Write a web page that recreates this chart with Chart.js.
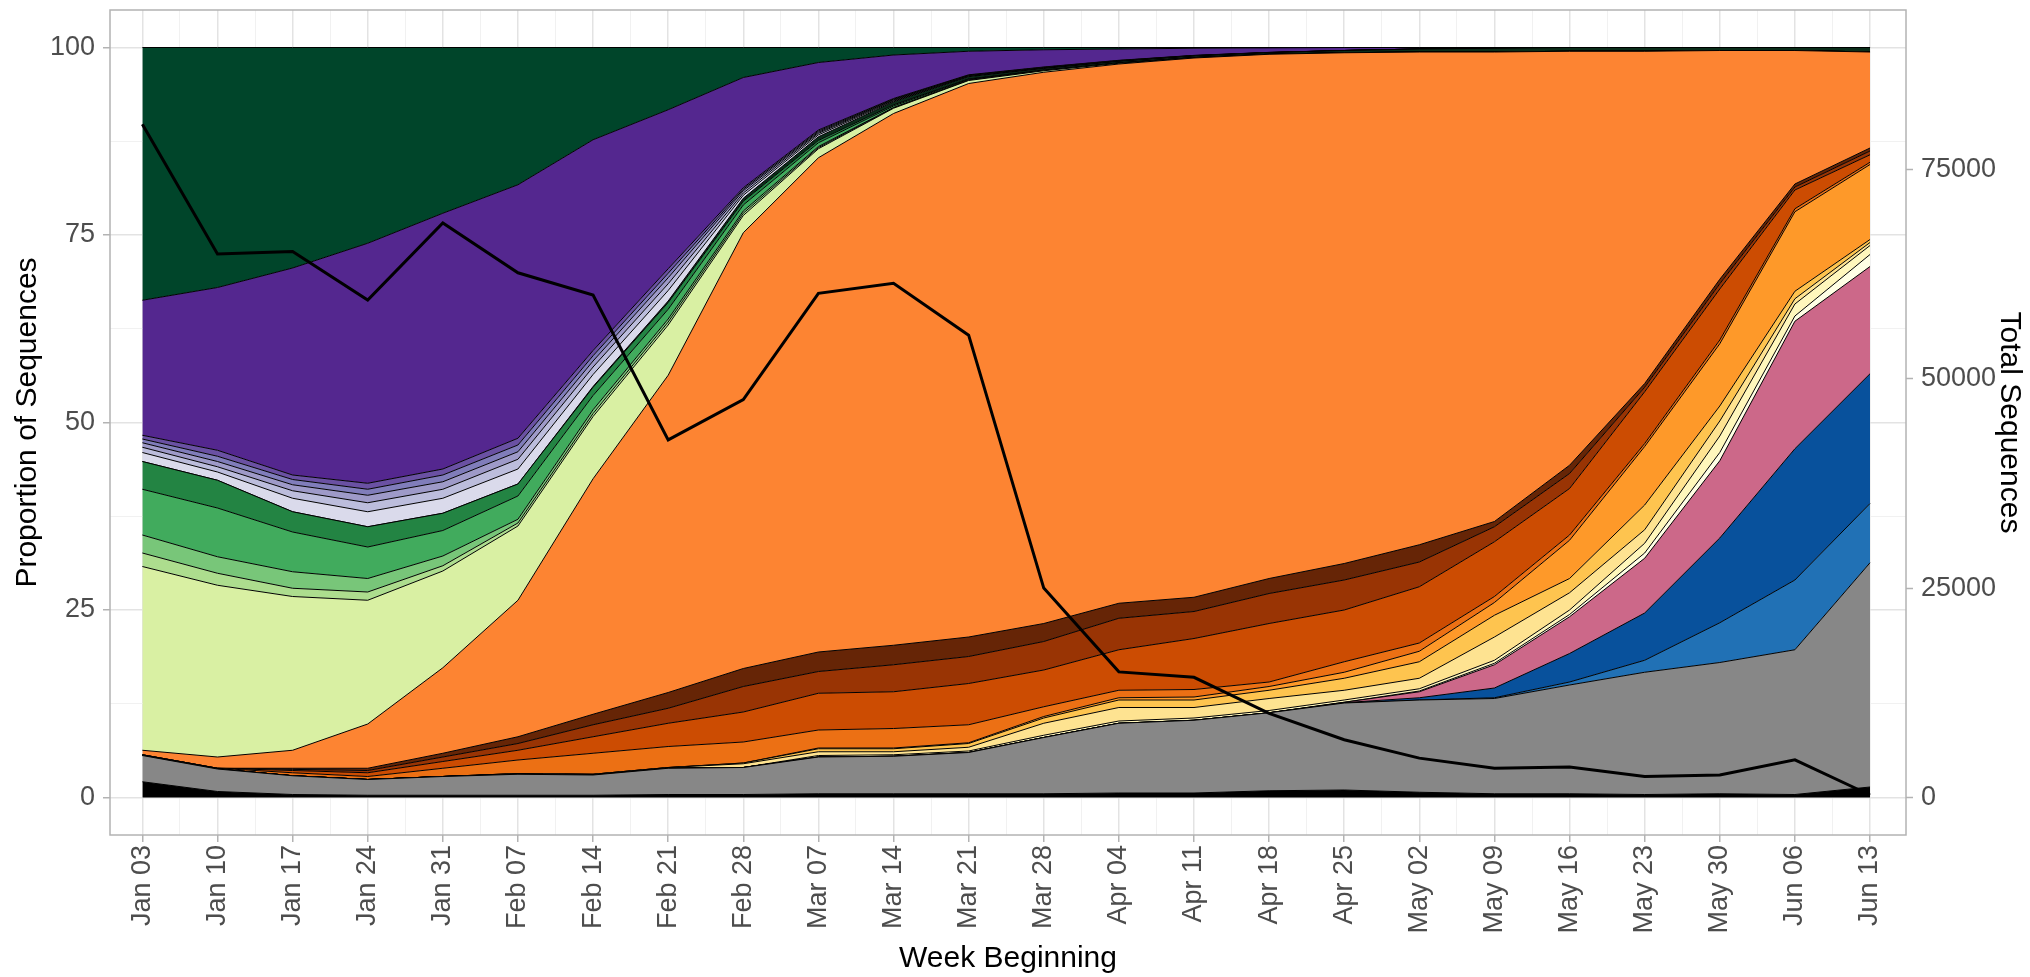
<!DOCTYPE html>
<html>
<head>
<meta charset="utf-8">
<title>Proportion of Sequences by Week</title>
<script src="https://cdn.jsdelivr.net/npm/chart.js@4.4.1/dist/chart.umd.min.js"></script>
<style>
  html, body { margin: 0; padding: 0; background: #fff; }
  #wrap { width: 2030px; height: 977px; position: relative; }
</style>
</head>
<body>
<div id="wrap"><canvas id="lineages"></canvas></div>
<script>
// x categories
const weeks = ['Jan 03', 'Jan 10', 'Jan 17', 'Jan 24', 'Jan 31', 'Feb 07', 'Feb 14', 'Feb 21', 'Feb 28',
  'Mar 07', 'Mar 14', 'Mar 21', 'Mar 28', 'Apr 04', 'Apr 11', 'Apr 18', 'Apr 25',
  'May 02', 'May 09', 'May 16', 'May 23', 'May 30', 'Jun 06', 'Jun 13'];

// proportions (%) per layer, bottom of the stack first
const black     = [2.1, 0.8, 0.4, 0.3, 0.3, 0.3, 0.3, 0.4, 0.4, 0.5, 0.5, 0.5, 0.5, 0.6, 0.6, 0.9, 1.0, 0.7, 0.5, 0.5, 0.4, 0.5, 0.4, 1.4];
const grey      = [3.5, 3.0, 2.5, 2.1, 2.5, 2.8, 2.7, 3.5, 3.6, 4.9, 5.0, 5.5, 7.5, 9.3, 9.7, 10.4, 11.6, 12.3, 12.7, 14.5, 16.3, 17.5, 19.3, 29.9];
const blueLight = [0, 0, 0, 0, 0, 0, 0, 0, 0, 0, 0, 0, 0, 0, 0, 0, 0, 0, 0.1, 0.4, 1.6, 5.3, 9.3, 7.9];
const blueDark  = [0, 0, 0, 0, 0, 0, 0, 0, 0, 0, 0, 0, 0, 0, 0, 0, 0.05, 0.3, 1.3, 3.8, 6.3, 11.3, 17.5, 17.3];
const pink      = [0, 0, 0, 0, 0, 0, 0, 0, 0, 0, 0, 0, 0, 0, 0, 0, 0.05, 0.8, 3.1, 4.9, 7.3, 10.3, 17.0, 14.3];
const ylw0      = [0, 0, 0, 0, 0, 0, 0, 0, 0, 0, 0, 0, 0, 0, 0, 0, 0, 0.1, 0.2, 0.3, 0.7, 1.1, 0.7, 1.6];
const ylw1      = [0, 0, 0, 0, 0, 0, 0, 0, 0, 0.2, 0.2, 0.2, 0.3, 0.3, 0.3, 0.3, 0.3, 0.3, 0.4, 0.6, 1.3, 2.2, 1.6, 1.2];
const ylw2      = [0, 0, 0, 0, 0, 0.1, 0.1, 0.1, 0.5, 0.5, 0.4, 0.5, 1.6, 1.8, 1.4, 1.6, 1.3, 1.4, 3.1, 2.3, 1.8, 2.0, 0.7, 0.4];
const ylw3      = [0, 0, 0, 0, 0, 0, 0, 0, 0.1, 0.4, 0.4, 0.5, 0.7, 1.0, 1.0, 1.1, 1.6, 2.2, 2.9, 1.9, 3.3, 2.0, 1.0, 0.4];
const ylw4      = [0, 0, 0, 0, 0, 0, 0, 0, 0, 0.1, 0.1, 0.1, 0.2, 0.3, 0.4, 0.5, 0.8, 1.4, 1.7, 5.1, 7.8, 8.3, 10.6, 10.0];
const ylw5      = [0.1, 0.1, 0.4, 0.4, 1.1, 1.8, 2.8, 2.8, 2.8, 2.4, 2.6, 2.4, 1.3, 1.0, 1.0, 0.6, 1.4, 1.1, 0.8, 0.7, 0.4, 0.5, 0.4, 0.3];
const ylw6      = [0, 0, 0.3, 0.5, 0.9, 1.3, 2.2, 3.1, 4.0, 4.9, 4.9, 5.5, 4.9, 5.4, 6.8, 7.8, 6.9, 7.5, 7.3, 6.2, 6.9, 6.8, 2.5, 1.0];
const ylw7      = [0, 0, 0.15, 0.3, 0.6, 0.9, 1.6, 2.0, 3.4, 2.9, 3.6, 3.6, 3.8, 4.2, 3.6, 4.0, 4.0, 3.3, 2.0, 2.0, 0.6, 0.7, 0.4, 0.5];
const ylw8      = [0, 0, 0.15, 0.3, 0.5, 0.9, 1.4, 2.1, 2.4, 2.6, 2.6, 2.6, 2.4, 2.0, 1.9, 2.0, 2.2, 2.3, 0.7, 1.1, 0.5, 0.6, 0.4, 0.4];
const bigOrange = [0.6, 1.5, 2.4, 5.9, 11.4, 18.2, 31.4, 42.3, 58.1, 65.9, 70.9, 73.8, 73.5, 71.9, 71.9, 69.9, 68.1, 65.7, 62.6, 55.2, 44.3, 30.5, 17.8, 12.8];
const grn1      = [24.5, 22.9, 20.5, 16.5, 12.9, 9.9, 8.3, 6.7, 2.3, 1.2, 0.7, 0.4, 0.2, 0.1, 0.05, 0, 0, 0, 0, 0, 0, 0, 0, 0];
const grn2      = [1.8, 1.6, 1.1, 1.1, 0.7, 0.4, 0.4, 0.4, 0.3, 0.15, 0.05, 0.03, 0.02, 0.01, 0, 0, 0, 0, 0, 0, 0, 0, 0, 0];
const grn3      = [2.4, 2.2, 2.2, 1.8, 1.3, 0.5, 0.5, 0.4, 0.3, 0.15, 0.05, 0.03, 0.02, 0.01, 0, 0, 0, 0, 0, 0, 0, 0, 0, 0];
const grn4      = [6.1, 6.5, 5.3, 4.2, 3.4, 3.1, 1.9, 1.3, 0.8, 0.5, 0.2, 0.1, 0.03, 0.01, 0, 0, 0, 0, 0, 0, 0, 0, 0, 0];
const grn5      = [3.7, 3.7, 2.7, 2.7, 2.3, 1.6, 1.1, 0.9, 0.5, 0.3, 0.15, 0.05, 0.03, 0.01, 0, 0, 0, 0, 0, 0, 0, 0, 0, 0];
const grn6      = [0, 0, 0, 0, 0, 0, 0.1, 0.2, 0.4, 0.5, 0.4, 0.3, 0.2, 0.2, 0.2, 0.2, 0.3, 0.4, 0.5, 0.5, 0.5, 0.4, 0.4, 0.6];
const lav1      = [1.2, 1.1, 1.8, 2.0, 2.0, 2.0, 1.6, 1.4, 0.4, 0.25, 0.1, 0.05, 0.04, 0.03, 0.02, 0.01, 0, 0, 0, 0, 0, 0, 0, 0];
const lav2      = [0.7, 0.7, 1.0, 1.2, 1.2, 1.3, 1.0, 0.9, 0.3, 0.2, 0.1, 0.05, 0.04, 0.03, 0.02, 0.01, 0, 0, 0, 0, 0, 0, 0, 0];
const lav3      = [0.6, 0.7, 0.8, 1.0, 1.0, 1.0, 0.8, 0.8, 0.3, 0.15, 0.09, 0.05, 0.04, 0.03, 0.02, 0.01, 0, 0, 0, 0, 0, 0, 0, 0];
const lav4      = [0.5, 0.7, 0.7, 0.8, 0.9, 0.9, 0.7, 0.6, 0.2, 0.15, 0.08, 0.05, 0.04, 0.03, 0.02, 0.01, 0, 0, 0, 0, 0, 0, 0, 0];
const lav5      = [0.5, 0.8, 0.6, 0.8, 0.8, 0.9, 0.7, 0.6, 0.2, 0.15, 0.08, 0.05, 0.04, 0.03, 0.02, 0.01, 0, 0, 0, 0, 0, 0, 0, 0];
const purple    = [18.0, 21.7, 27.6, 32.0, 34.1, 33.8, 28.1, 21.2, 14.7, 9.0, 5.8, 3.14, 2.3, 1.51, 0.95, 0.6, 0.4, 0.2, 0.1, 0, 0, 0, 0, 0];
const dkGreen   = [33.7, 32.0, 29.4, 26.1, 22.1, 18.3, 12.3, 8.3, 4.0, 2.0, 1.0, 0.5, 0.3, 0.2, 0.1, 0.05, 0, 0, 0, 0, 0, 0, 0, 0];

// total sequences per week (right axis)
const totals = [80400, 64900, 65200, 59400, 68600, 62650, 60000, 42700, 47500, 60200, 61400, 55200,
  25000, 15000, 14350, 10050, 6900, 4700, 3500, 3650, 2500, 2700, 4500, 300];

const leftTicks = [0, 12.5, 25, 37.5, 50, 62.5, 75, 87.5, 100];
const rightTicks = [0, 25000, 50000, 75000];

// right axis: 100 % on the left matches this many sequences
const seqPerPct = 895.5;

const layers = [
  [black, '#000000'], [grey, '#878787'], [blueLight, '#2171B5'], [blueDark, '#08519C'], [pink, '#CC6889'],
  [ylw0, '#FFFFE5'], [ylw1, '#FFF7BC'], [ylw2, '#FEE391'], [ylw3, '#FEC44F'], [ylw4, '#FE9929'],
  [ylw5, '#EC7014'], [ylw6, '#CC4C02'], [ylw7, '#993404'], [ylw8, '#662506'], [bigOrange, '#FD8432'],
  [grn1, '#D9F0A3'], [grn2, '#ADDD8E'], [grn3, '#78C679'], [grn4, '#41AB5D'], [grn5, '#238443'], [grn6, '#0B2E1A'],
  [lav1, '#DADAEB'], [lav2, '#BCBDDC'], [lav3, '#9E9AC8'], [lav4, '#807DBA'], [lav5, '#6A51A3'],
  [purple, '#54278F'], [dkGreen, '#00452A']
];

const asPoints = arr => arr.map((v, i) => ({ x: i, y: v }));

const datasets = layers.map(([vals, col], i) => ({
  data: asPoints(vals),
  yAxisID: 'y',
  backgroundColor: col,
  borderColor: '#000000',
  borderWidth: 1,
  fill: i === 0 ? 'origin' : '-1',
  pointRadius: 0,
  order: 1
}));
datasets.push({
  data: asPoints(totals),
  yAxisID: 'y2',
  borderColor: '#000000',
  borderWidth: 3,
  fill: false,
  pointRadius: 0,
  order: 0
});

const isMajor = c => c.tick && Number.isInteger(c.tick.value);
const gridLook = majorTest => ({
  color: c => majorTest(c) ? '#E3E3E3' : '#F1F1F1',
  lineWidth: c => majorTest(c) ? 1.5 : 1,
  tickColor: c => majorTest(c) ? '#B3B3B3' : 'rgba(0,0,0,0)',
  tickLength: 7,
  tickWidth: 1.5
});

// no extra room for half labels at the axis ends
const noEndPadding = s => { s.paddingTop = 0; s.paddingBottom = 0; s.paddingLeft = 0; s.paddingRight = 0; };

// grey frame round the panel, like theme_light
const panelBorder = {
  id: 'panelBorder',
  afterDraw(chart) {
    const { ctx, chartArea: a } = chart;
    ctx.save();
    ctx.strokeStyle = '#B3B3B3';
    ctx.lineWidth = 1.5;
    ctx.strokeRect(a.left, a.top, a.right - a.left, a.bottom - a.top);
    ctx.restore();
  }
};

Chart.defaults.font.family = '"Liberation Sans", Arial, Helvetica, sans-serif';

new Chart(document.getElementById('lineages').getContext('2d'), {
  type: 'line',
  data: { datasets },
  options: {
    responsive: true,
    maintainAspectRatio: false,
    animation: false,
    events: [],
    layout: { padding: { top: 10, left: 0, right: 0, bottom: 0 } },
    plugins: { legend: { display: false }, tooltip: { enabled: false } },
    scales: {
      x: {
        type: 'linear',
        min: -0.431,
        max: 23.479,
        afterBuildTicks: s => {
          const t = [];
          for (let v = 0; v <= 23; v += 0.5) t.push({ value: v });
          s.ticks = t;
        },
        afterFit: s => { s.height = 142; noEndPadding(s); },
        grid: gridLook(isMajor),
        border: { display: false },
        ticks: {
          autoSkip: false,
          minRotation: 90,
          maxRotation: 90,
          padding: 3,
          color: '#4D4D4D',
          font: { size: 27 },
          callback: v => Number.isInteger(v) ? weeks[v] : ''
        },
        title: { display: true, text: 'Week Beginning', color: '#000000', font: { size: 30 }, padding: { top: 0, bottom: 0 } }
      },
      y: {
        position: 'left',
        stacked: true,
        min: -5,
        max: 105,
        afterBuildTicks: s => { s.ticks = leftTicks.map(v => ({ value: v })); },
        afterFit: s => { s.width = 110; noEndPadding(s); },
        grid: gridLook(c => c.tick && c.tick.value % 25 === 0),
        border: { display: false },
        ticks: {
          padding: 8,
          color: '#4D4D4D',
          font: { size: 27 },
          callback: v => v % 25 === 0 ? String(v) : ''
        },
        title: { display: true, text: 'Proportion of Sequences', color: '#000000', font: { size: 30 }, padding: { top: 10, bottom: 0 } }
      },
      y2: {
        position: 'right',
        min: -5 * seqPerPct,
        max: 105 * seqPerPct,
        afterBuildTicks: s => { s.ticks = rightTicks.map(v => ({ value: v })); },
        afterFit: s => { s.width = 124; noEndPadding(s); },
        grid: { drawOnChartArea: false, tickColor: '#B3B3B3', tickLength: 7, tickWidth: 1.5 },
        border: { display: false },
        ticks: {
          padding: 8,
          color: '#4D4D4D',
          font: { size: 27 },
          callback: v => String(v)
        },
        title: { display: true, text: 'Total Sequences', color: '#000000', font: { size: 30 }, padding: { top: 3, bottom: 0 } }
      }
    }
  },
  plugins: [panelBorder]
});
</script>
</body>
</html>
